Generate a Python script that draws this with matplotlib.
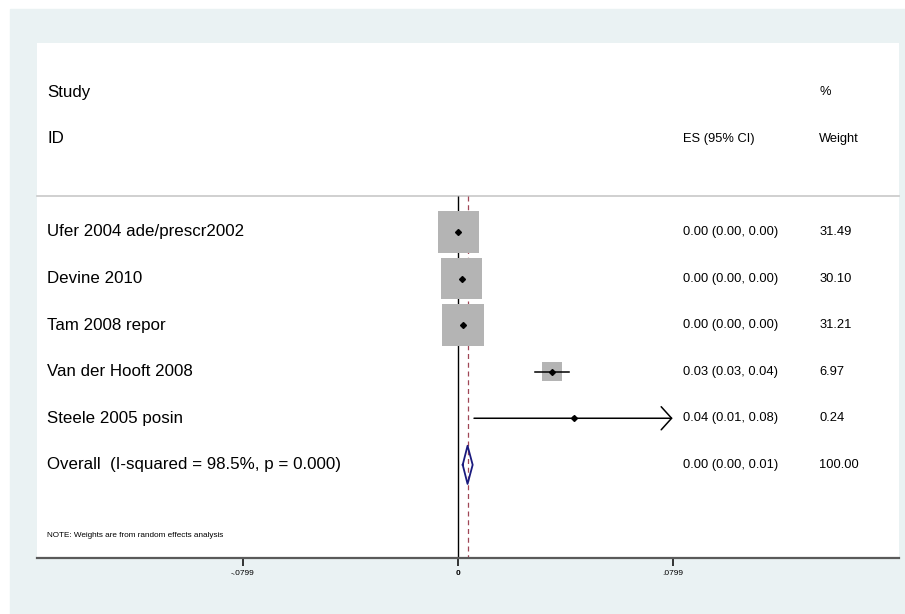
"""Stata-style metan forest plot: random-effects pooled estimate, five studies."""

import matplotlib.pyplot as plt
import numpy as np
from matplotlib.patches import Rectangle

plt.rcParams["font.family"] = ["Liberation Sans", "DejaVu Sans"]

# ---- data ------------------------------------------------------------------
STUDIES = ["Ufer 2004 ade/prescr2002", "Devine 2010", "Tam 2008 repor",
           "Van der Hooft 2008", "Steele 2005 posin"]
ES = [0.0003, 0.0015, 0.0020, 0.0350, 0.0431]
CI_LO = [0.0002, 0.0013, 0.0018, 0.0287, 0.0061]
CI_HI = [0.0004, 0.0017, 0.0022, 0.0414, 0.0799]   # Steele clipped at axis max
CLIPPED = [False, False, False, False, True]
WEIGHTS = [31.49, 30.10, 31.21, 6.97, 0.24]
ES_TEXT = ["0.00 (0.00, 0.00)", "0.00 (0.00, 0.00)", "0.00 (0.00, 0.00)",
           "0.03 (0.03, 0.04)", "0.04 (0.01, 0.08)"]
WEIGHT_TEXT = ["31.49", "30.10", "31.21", "6.97", "0.24"]

OVERALL_LABEL = "Overall  (I-squared = 98.5%, p = 0.000)"
OVERALL_ES, OVERALL_LO, OVERALL_HI = 0.0037, 0.0019, 0.0056
OVERALL_TEXT, OVERALL_WEIGHT = "0.00 (0.00, 0.01)", "100.00"

XTICKS = [-0.0799, 0.0, 0.0799]
XTICK_LABELS = ["-.0799", "0", ".0799"]
NOTE = "NOTE: Weights are from random effects analysis"

# ---- layout -----------------------------------------------------------------
W, H = 905, 614
BG = "#EAF2F3"
BOX_GREY = "#B4B4B4"
NAVY = "#1A1A7E"
DASH_RED = "#A04656"

X_LEFT, X_RIGHT = -0.15628, 0.16401
Y_BOTTOM, Y_TOP = 7.0, -4.056
SEP_Y = -0.773
COL_LABEL, COL_ES, COL_W = 0.0120, 0.7494, 0.9075   # axes-fraction x

fig = plt.figure(figsize=(W / 100, H / 100), dpi=100, facecolor="white")
fig.patches.append(Rectangle((10 / W, 0), (W - 10) / W, (H - 9) / H,
                             transform=fig.transFigure, color=BG, zorder=-1))
ax = fig.add_axes([37 / W, 56 / H, 862 / W, 515 / H], facecolor="white")
ax.set_xlim(X_LEFT, X_RIGHT)
ax.set_ylim(Y_BOTTOM, Y_TOP)
tr = ax.get_yaxis_transform()

rows = np.arange(len(STUDIES))
overall_row = len(STUDIES)

# reference lines
ax.plot([X_LEFT, X_RIGHT], [SEP_Y, SEP_Y], color="#C8C8C8", lw=1.2, zorder=1,
        clip_on=False)
ax.vlines(0, SEP_Y, Y_BOTTOM, color="black", lw=1.0, zorder=1)
ax.vlines(OVERALL_ES, SEP_Y, Y_BOTTOM, color=DASH_RED, lw=0.9,
          linestyles=(0, (4, 3)), zorder=1)

# study boxes (area proportional to weight), CIs and point estimates
ax.scatter(ES, rows, s=np.array(WEIGHTS) * 28.6, marker="s", color=BOX_GREY,
           linewidths=0, zorder=2)
for r, lo, hi, clip in zip(rows, CI_LO, CI_HI, CLIPPED):
    if clip:
        ax.annotate("", xy=(hi, r), xytext=(lo, r),
                    arrowprops=dict(arrowstyle="->,head_length=7.5,head_width=8.3",
                                    mutation_scale=1, lw=1.1, color="black",
                                    shrinkA=0, shrinkB=0), zorder=3)
    else:
        ax.plot([lo, hi], [r, r], color="black", lw=1.1, zorder=3)
ax.plot(ES, rows, "D", color="black", ms=3.0, zorder=4)

# pooled diamond
dh = 0.41
ax.plot([OVERALL_LO, OVERALL_ES, OVERALL_HI, OVERALL_ES, OVERALL_LO],
        [overall_row, overall_row - dh, overall_row, overall_row + dh, overall_row],
        color=NAVY, lw=1.3, zorder=4)

# text columns
big, small = 12.2, 9.3
ax.text(COL_LABEL, -3, "Study", transform=tr, va="center", fontsize=big)
ax.text(COL_LABEL, -2, "ID", transform=tr, va="center", fontsize=big)
ax.text(COL_ES, -2, "ES (95% CI)", transform=tr, va="center", fontsize=small)
ax.text(COL_W, -3, "%", transform=tr, va="center", fontsize=small)
ax.text(COL_W, -2, "Weight", transform=tr, va="center", fontsize=small)
for r, name, est, wt in zip(rows, STUDIES, ES_TEXT, WEIGHT_TEXT):
    ax.text(COL_LABEL, r, name, transform=tr, va="center", fontsize=big)
    ax.text(COL_ES, r, est, transform=tr, va="center", fontsize=small)
    ax.text(COL_W, r, wt, transform=tr, va="center", fontsize=small)
ax.text(COL_LABEL, overall_row, OVERALL_LABEL, transform=tr, va="center", fontsize=big)
ax.text(COL_ES, overall_row, OVERALL_TEXT, transform=tr, va="center", fontsize=small)
ax.text(COL_W, overall_row, OVERALL_WEIGHT, transform=tr, va="center", fontsize=small)
ax.text(COL_LABEL, 6.52, NOTE, transform=tr, va="center", fontsize=5.9)

# axis
for side in ("top", "left", "right"):
    ax.spines[side].set_visible(False)
ax.spines["bottom"].set_color("#5A5A5A")
ax.spines["bottom"].set_linewidth(1.6)
ax.set_yticks([])
ax.set_xticks(XTICKS)
ax.set_xticklabels(XTICK_LABELS, fontsize=6.0)
ax.get_xticklabels()[1].set_fontweight("bold")
ax.tick_params(axis="x", length=5.8, width=1.1, pad=3, color="black")

fig.savefig("out.png", dpi=100, facecolor=fig.get_facecolor())
